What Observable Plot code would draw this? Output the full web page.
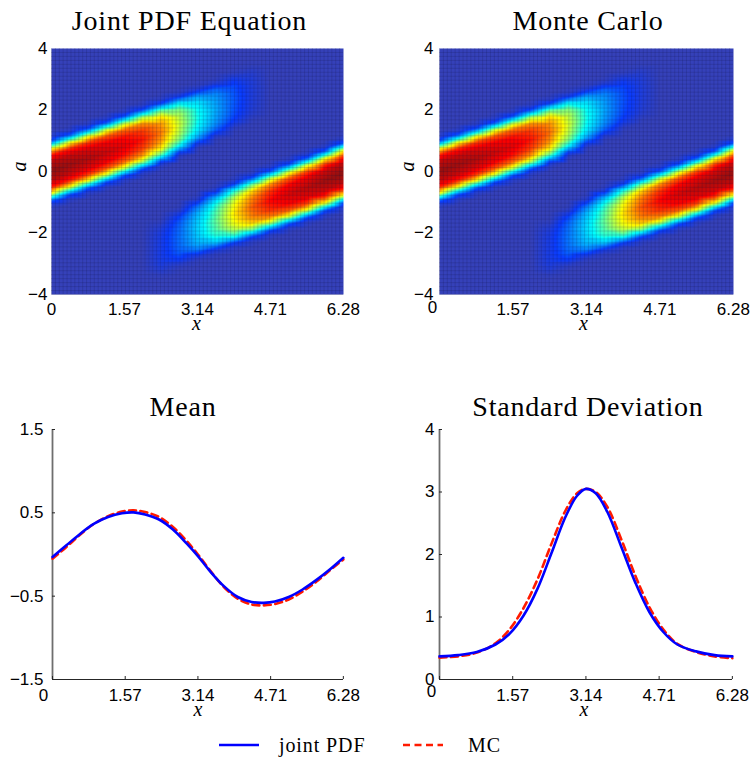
<!DOCTYPE html>
<html><head><meta charset="utf-8">
<script src="https://cdn.jsdelivr.net/npm/d3@7"></script>
<script src="https://cdn.jsdelivr.net/npm/@observablehq/plot@0.6"></script>
<style>
body{margin:0;background:#fff;}
#root{position:relative;width:753px;height:757px;overflow:hidden;background:#fff;}
.panel{position:absolute;}
.panel svg{display:block;overflow:visible;}
#overlay{position:absolute;left:0;top:0;pointer-events:none;}
</style></head><body><div id="root"></div>
<script>
// ---------- text / ticks ----------
const panelTitles = ["Joint PDF Equation", "Monte Carlo", "Mean", "Standard Deviation"];
const seriesNames = ["joint PDF", "MC"];
const seriesColors = ["#0000ff", "#ff1a00"];
const xTicks = [0, 1.57, 3.14, 4.71, 6.28];
const xTickLabels = ["0", "1.57", "3.14", "4.71", "6.28"];
const aTicks = [-4, -2, 0, 2, 4];
const meanTicks = [-1.5, -0.5, 0.5, 1.5];
const sdTicks = [0, 1, 2, 3, 4];

// ---------- Mean ----------
const meanX   = [0, 0.3, 0.6, 0.9, 1.2, 1.5, 1.75, 2.0, 2.3, 2.6, 2.9, 3.14, 3.4, 3.7, 4.0, 4.3, 4.56, 4.8, 5.1, 5.4, 5.7, 6.0, 6.28];
const meanPDF = [-0.03, 0.11, 0.25, 0.37, 0.45, 0.495, 0.505, 0.48, 0.42, 0.30, 0.13, -0.02, -0.20, -0.38, -0.51, -0.57, -0.58, -0.565, -0.51, -0.42, -0.305, -0.175, -0.04];
const meanMC  = [-0.05, 0.09, 0.24, 0.37, 0.46, 0.515, 0.53, 0.51, 0.45, 0.33, 0.16, 0.0, -0.19, -0.39, -0.53, -0.60, -0.61, -0.595, -0.54, -0.445, -0.325, -0.185, -0.06];

// ---------- Standard deviation ----------
const sdX   = [0, 0.4, 0.8, 1.2, 1.5, 1.8, 2.1, 2.4, 2.7, 2.95, 3.14, 3.35, 3.6, 3.9, 4.2, 4.5, 4.8, 5.1, 5.5, 5.9, 6.28];
const sdPDF = [0.37, 0.39, 0.44, 0.56, 0.73, 1.02, 1.45, 2.02, 2.60, 2.94, 3.05, 2.98, 2.68, 2.12, 1.55, 1.08, 0.76, 0.56, 0.45, 0.39, 0.37];
const sdMC  = [0.35, 0.37, 0.43, 0.58, 0.80, 1.14, 1.60, 2.17, 2.70, 2.98, 3.05, 3.00, 2.76, 2.24, 1.66, 1.16, 0.80, 0.57, 0.44, 0.37, 0.34];

// ---------- Joint PDF heat maps: ridges ----------
// upper ridge (starts at x=0)
const r1X      = [0, 0.39, 0.79, 1.18, 1.57, 1.96, 2.36, 2.75, 3.14, 3.53, 3.93, 4.32, 4.71];
const r1Center = [0.02, 0.22, 0.42, 0.62, 0.83, 1.04, 1.27, 1.52, 1.77, 2.02, 2.3, 2.55, 2.8];
const r1Width  = [1.0, 1.0, 1.0, 1.0, 1.0, 1.0, 0.98, 0.95, 0.92, 0.9, 0.9, 0.9, 0.9];
const r1PeakPDF = [1.0, 0.98, 0.96, 0.93, 0.9, 0.85, 0.75, 0.57, 0.38, 0.25, 0.14, 0.05, 0];
const r1PeakMC  = [0.99, 0.98, 0.96, 0.93, 0.9, 0.85, 0.76, 0.58, 0.38, 0.24, 0.13, 0.05, 0];
// lower ridge (ends at x=2*pi)
const r2X      = [1.96, 2.36, 2.75, 3.14, 3.53, 3.93, 4.32, 4.71, 5.11, 5.50, 5.89, 6.2832];
const r2Center = [-2.8, -2.5, -2.15, -1.85, -1.6, -1.37, -1.16, -0.95, -0.74, -0.53, -0.3, -0.05];
const r2Width  = [0.9, 0.9, 0.92, 0.95, 0.98, 1.0, 1.0, 1.0, 1.0, 1.0, 1.0, 1.0];
const r2PeakPDF = [0, 0.07, 0.17, 0.3, 0.46, 0.64, 0.78, 0.87, 0.92, 0.95, 0.98, 1.0];
const r2PeakMC  = [0, 0.07, 0.18, 0.31, 0.47, 0.65, 0.79, 0.87, 0.92, 0.95, 0.97, 0.99];
// cross-section of a ridge (offset in a, relative level)
const profileOffset = [-1.3, -1.1, -0.97, -0.85, -0.73, -0.52, -0.3, 0, 0.3, 0.52, 0.73, 0.85, 0.97, 1.1, 1.3];
const profileShape  = [0, 0.03, 0.13, 0.37, 0.62, 0.85, 0.95, 1, 0.95, 0.85, 0.62, 0.37, 0.13, 0.03, 0];
// zero-density border samples
const edgeA = [-4, -3, -2, 2, 3, 4];
const edgeX = [0, 0.8, 1.6, 2.4, 3.2, 4.0, 4.8, 5.6, 6.2832];

// jet colour map
const jetDomain = [0, 0.1, 0.36, 0.62, 0.87, 1.0];
const jetRange  = ["#3541b9", "#0a3cff", "#00ffff", "#ffff00", "#ff0000", "#8c1212"];

function ridgePoints(xs, centers, widths, peaks) {
  const pts = [];
  xs.forEach((x, i) => profileOffset.forEach((o, k) =>
    pts.push({x, a: centers[i] + o * widths[i], v: peaks[i] * profileShape[k]})));
  return pts;
}
function borderPoints() {
  const pts = [];
  for (const a of edgeA) { pts.push({x: 0, a, v: 0}); pts.push({x: 6.2832, a, v: 0}); }
  for (const x of edgeX) { pts.push({x, a: -4, v: 0}); pts.push({x, a: 4, v: 0}); }
  return pts;
}
const pdfPoints = [...ridgePoints(r1X, r1Center, r1Width, r1PeakPDF), ...ridgePoints(r2X, r2Center, r2Width, r2PeakPDF), ...borderPoints()];
const mcPoints  = [...ridgePoints(r1X, r1Center, r1Width, r1PeakMC),  ...ridgePoints(r2X, r2Center, r2Width, r2PeakMC),  ...borderPoints()];

const TWO_PI = 6.2832;
const meshX = d3.range(0, TWO_PI, TWO_PI / 75);
const meshA = d3.range(-4, 4, 8 / 62);

const tickFont = {fontFamily: "'Liberation Sans', Arial, sans-serif", fontSize: "17px", color: "#000", background: "transparent", overflow: "visible"};
const labelOf = d => xTickLabels[xTicks.indexOf(d)];
const numFmt = d => (d < 0 ? "\u2212" : "") + String(Math.abs(d));

function xAxes(pad, zdx, zdy) {
  return [
    Plot.axisX(xTicks.slice(1), {tickSize: 0, tickPadding: pad, tickFormat: labelOf, label: null}),
    Plot.axisX([0], {tickSize: 0, tickPadding: pad, tickFormat: labelOf, label: null, dx: zdx, dy: zdy})
  ];
}
function xLabel(dx, dy) {
  return Plot.text(["x"], {text: d => d, frameAnchor: "bottom", dx, dy, lineAnchor: "bottom",
    fontFamily: "'Liberation Serif', serif", fontStyle: "italic", fontSize: 20});
}

function heatmap(points, o) {
  return Plot.plot({
    width: o.width, height: 300,
    marginLeft: o.ml, marginRight: o.mr, marginTop: 8, marginBottom: 46,
    x: {domain: [0, TWO_PI]}, y: {domain: [-4, 4]},
    color: {type: "linear", domain: jetDomain, range: jetRange, interpolate: "rgb", clamp: true},
    style: tickFont,
    marks: [
      Plot.raster(points, {x: "x", y: "a", fill: "v", interpolate: "barycentric", x1: 0, x2: TWO_PI, y1: -4, y2: 4}),
      Plot.gridX(meshX, {stroke: "#101040", strokeOpacity: 0.16, strokeWidth: 1}),
      Plot.gridY(meshA, {stroke: "#101040", strokeOpacity: 0.16, strokeWidth: 1}),
      ...xAxes(8, o.zdx, o.zdy),
      Plot.axisY(aTicks, {tickSize: 0, tickPadding: o.ypad, tickFormat: numFmt, label: null}),
      xLabel(o.xldx, 35),
      Plot.text(["a"], {text: d => d, frameAnchor: "left", dx: o.aDx, rotate: -90, lineAnchor: "bottom",
        fontFamily: "'Liberation Serif', serif", fontStyle: "italic", fontSize: 20})
    ]
  });
}

function linePanel(xs, pdf, mc, o) {
  const fw = o.width - o.ml - o.mr, fh = 300 - 9 - 41;
  const dataPDF = xs.map((x, i) => ({x, y: pdf[i]}));
  const dataMC = xs.map((x, i) => ({x, y: mc[i]}));
  return Plot.plot({
    width: o.width, height: 300,
    marginLeft: o.ml, marginRight: o.mr, marginTop: 9, marginBottom: 41,
    x: {domain: [0, TWO_PI]}, y: {domain: o.domain},
    style: tickFont,
    marks: [
      Plot.ruleY([o.domain[0]], {stroke: "#262626", strokeWidth: 1.2}),
      Plot.ruleX([0], {stroke: "#6e6e6e", strokeWidth: 1.8}),
      Plot.tickX(xTicks, {x: d => d, insetTop: fh - 3, stroke: "#262626"}),
      Plot.tickY(o.ticks, {y: d => d, insetRight: fw - 3, stroke: "#262626"}),
      Plot.line(dataMC, {x: "x", y: "y", stroke: seriesColors[1], strokeWidth: 2.6, strokeDasharray: "7,4.5", curve: "catmull-rom"}),
      Plot.line(dataPDF, {x: "x", y: "y", stroke: seriesColors[0], strokeWidth: 2.6, curve: "catmull-rom"}),
      ...xAxes(9, o.zdx, o.zdy),
      Plot.axisY(o.ticks, {tickSize: 0, tickPadding: o.ypad, tickFormat: numFmt, label: null}),
      xLabel(o.xldx, 36)
    ]
  });
}

const root = document.getElementById("root");
function place(node, left, top) {
  const d = document.createElement("div");
  d.className = "panel"; d.style.left = left + "px"; d.style.top = top + "px";
  d.appendChild(node); root.appendChild(d);
}

place(heatmap(pdfPoints, {width: 376, ml: 51, mr: 33, zdx: 0, zdy: 0, ypad: 4, xldx: -1, aDx: -26}), 0, 40);
place(heatmap(mcPoints, {width: 373, ml: 59, mr: 20, zdx: -7, zdy: -2, ypad: 6, xldx: -3, aDx: -26}), 380, 40);
place(linePanel(meanX, meanPDF, meanMC, {width: 376, ml: 52, mr: 33, domain: [-1.5, 1.5], ticks: meanTicks, zdx: -9, zdy: 0, ypad: 9, xldx: 0}), 0, 420);
place(linePanel(sdX, sdPDF, sdMC, {width: 373, ml: 59, mr: 21, domain: [0, 4], ticks: sdTicks, zdx: -8, zdy: -4, ypad: 5, xldx: -2}), 380, 420);

// ---------- titles and legend ----------
const ns = "http://www.w3.org/2000/svg";
const ov = document.createElementNS(ns, "svg");
ov.setAttribute("id", "overlay"); ov.setAttribute("width", 753); ov.setAttribute("height", 757);
const titlePos = [[189.5, 29.5], [588, 29.5], [183, 416], [588, 416]];
panelTitles.forEach((t, i) => {
  const e = document.createElementNS(ns, "text");
  e.setAttribute("x", titlePos[i][0]); e.setAttribute("y", titlePos[i][1]);
  e.setAttribute("text-anchor", "middle");
  e.setAttribute("font-family", "'Liberation Serif', serif");
  e.setAttribute("font-size", 28); e.setAttribute("letter-spacing", 0.8);
  e.textContent = t; ov.appendChild(e);
});
const legendPos = [[219, 279], [403, 468]];
seriesNames.forEach((name, i) => {
  const l = document.createElementNS(ns, "line");
  l.setAttribute("x1", legendPos[i][0]); l.setAttribute("x2", legendPos[i][0] + 40);
  l.setAttribute("y1", 745); l.setAttribute("y2", 745);
  l.setAttribute("stroke", seriesColors[i]); l.setAttribute("stroke-width", 2.6);
  if (i === 1) l.setAttribute("stroke-dasharray", "7,4.5");
  ov.appendChild(l);
  const t = document.createElementNS(ns, "text");
  t.setAttribute("x", legendPos[i][1]); t.setAttribute("y", 751.5);
  t.setAttribute("font-family", "'Liberation Serif', serif");
  t.setAttribute("font-size", 20); t.setAttribute("letter-spacing", 0.9);
  t.textContent = name; ov.appendChild(t);
});
root.appendChild(ov);
</script></body></html>
